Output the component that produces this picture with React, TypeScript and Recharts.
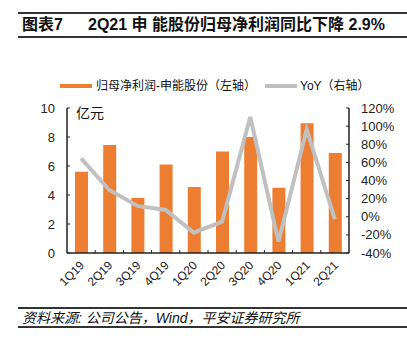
import React from 'react'
import { ComposedChart, Bar, Line, XAxis, YAxis } from 'recharts'

const quarters = ['1Q19', '2Q19', '3Q19', '4Q19', '1Q20', '2Q20', '3Q20', '4Q20', '1Q21', '2Q21']
const netProfit = [5.6, 7.45, 3.8, 6.1, 4.55, 7.0, 8.0, 4.5, 8.95, 6.9]
const yoy = [64.5, 29.5, 12, 7.5, -17.5, -5.5, 110, -27.5, 96.5, -2.9]
const leftTicks = [0, 2, 4, 6, 8, 10]
const rightTicks = [-40, -20, 0, 20, 40, 60, 80, 100, 120]

const data = quarters.map((q, i) => ({ q, profit: netProfit[i], yoy: yoy[i] }))

const W = 407
const H = 351
const PLOT_LEFT = 67
const PLOT_RIGHT = 349
const BAND = (PLOT_RIGHT - PLOT_LEFT) / quarters.length

const LATIN = '"Liberation Sans", Arial, sans-serif'
const CJK = '"Liberation Sans", "Noto Sans CJK SC", sans-serif'
const AXIS = '#222'

function QuarterTick(props: any) {
  const { x, y, index, payload } = props
  const axisY = y - 6
  const ax = x + 4
  const ay = y + 7
  return (
    <g>
      {index > 0 && (
        <line x1={x - BAND / 2} y1={axisY} x2={x - BAND / 2} y2={axisY - 3} stroke={AXIS} strokeWidth={1} />
      )}
      <text
        x={ax}
        y={ay}
        textAnchor="end"
        transform={`rotate(-45 ${ax} ${ay})`}
        fontSize={12}
        fontFamily={LATIN}
        fill="#222"
      >
        {payload.value}
      </text>
    </g>
  )
}

export default function App() {
  return (
    <div style={{ position: 'absolute', left: 0, top: 0, width: W, height: H, background: '#fff', fontFamily: CJK, color: '#111' }}>
      <div style={{ position: 'absolute', left: 18, right: 0, top: 12, height: 2, background: '#333' }} />
      <div style={{ position: 'absolute', left: 22, top: 15, fontSize: 16, fontWeight: 'bold', whiteSpace: 'nowrap', lineHeight: '20px' }}>
        图表7
      </div>
      <div style={{ position: 'absolute', left: 88, top: 15, fontSize: 16, fontWeight: 'bold', whiteSpace: 'nowrap', lineHeight: '20px' }}>
        2Q21 申 能股份归母净利润同比下降 2.9%
      </div>
      <div style={{ position: 'absolute', left: 18, right: 0, top: 36, height: 1.5, background: '#333' }} />

      {/* legend */}
      <div style={{ position: 'absolute', left: 60, top: 84, width: 32, height: 4, background: '#ED7D31' }} />
      <div style={{ position: 'absolute', left: 96, top: 78, fontSize: 12, lineHeight: '16px', whiteSpace: 'nowrap' }}>
        归母净利润-申能股份（左轴）
      </div>
      <div style={{ position: 'absolute', left: 265, top: 84, width: 32, height: 4, background: '#C0C0C0' }} />
      <div style={{ position: 'absolute', left: 300, top: 78, fontSize: 12, lineHeight: '16px', whiteSpace: 'nowrap' }}>
        YoY（右轴）
      </div>

      <div style={{ position: 'absolute', left: 76, top: 104, fontSize: 14, lineHeight: '18px', whiteSpace: 'nowrap' }}>亿元</div>

      <div style={{ position: 'absolute', left: 0, top: 0 }}>
        <ComposedChart width={W} height={H} data={data} margin={{ top: 108, right: 0, bottom: 0, left: 0 }}>
          <XAxis
            dataKey="q"
            height={98}
            axisLine={{ stroke: AXIS, strokeWidth: 1.5 }}
            tickLine={false}
            tickSize={0}
            tickMargin={6}
            interval={0}
            tick={<QuarterTick />}
          />
          <YAxis
            yAxisId="left"
            width={67}
            domain={[0, 10]}
            ticks={leftTicks}
            interval={0}
            axisLine={{ stroke: AXIS, strokeWidth: 1.5 }}
            tickLine={{ stroke: AXIS }}
            tickSize={-3}
            tickMargin={15}
            tick={{ fontSize: 13, fill: '#222', fontFamily: LATIN }}
          />
          <YAxis
            yAxisId="right"
            orientation="right"
            width={58}
            domain={[-40, 120]}
            ticks={rightTicks}
            interval={0}
            tickFormatter={(v: number) => `${v}%`}
            axisLine={{ stroke: AXIS, strokeWidth: 1.5 }}
            tickLine={{ stroke: AXIS }}
            tickSize={-3}
            tickMargin={15}
            tick={{ fontSize: 13, fill: '#222', fontFamily: LATIN, textAnchor: 'start' }}
          />
          <Bar yAxisId="left" dataKey="profit" fill="#ED7D31" barSize={13} isAnimationActive={false} />
          <Line
            yAxisId="right"
            dataKey="yoy"
            stroke="#C0C0C0"
            strokeWidth={4}
            dot={false}
            type="linear"
            isAnimationActive={false}
          />
        </ComposedChart>
      </div>

      <div style={{ position: 'absolute', left: 18, right: 0, top: 307, height: 1.5, background: '#333' }} />
      <div style={{ position: 'absolute', left: 22, top: 310, fontSize: 14, fontStyle: 'italic', lineHeight: '16px', whiteSpace: 'nowrap' }}>
        资料来源: 公司公告，Wind，平安证券研究所
      </div>
      <div style={{ position: 'absolute', left: 18, right: 0, top: 326, height: 1.5, background: '#333' }} />
    </div>
  )
}
